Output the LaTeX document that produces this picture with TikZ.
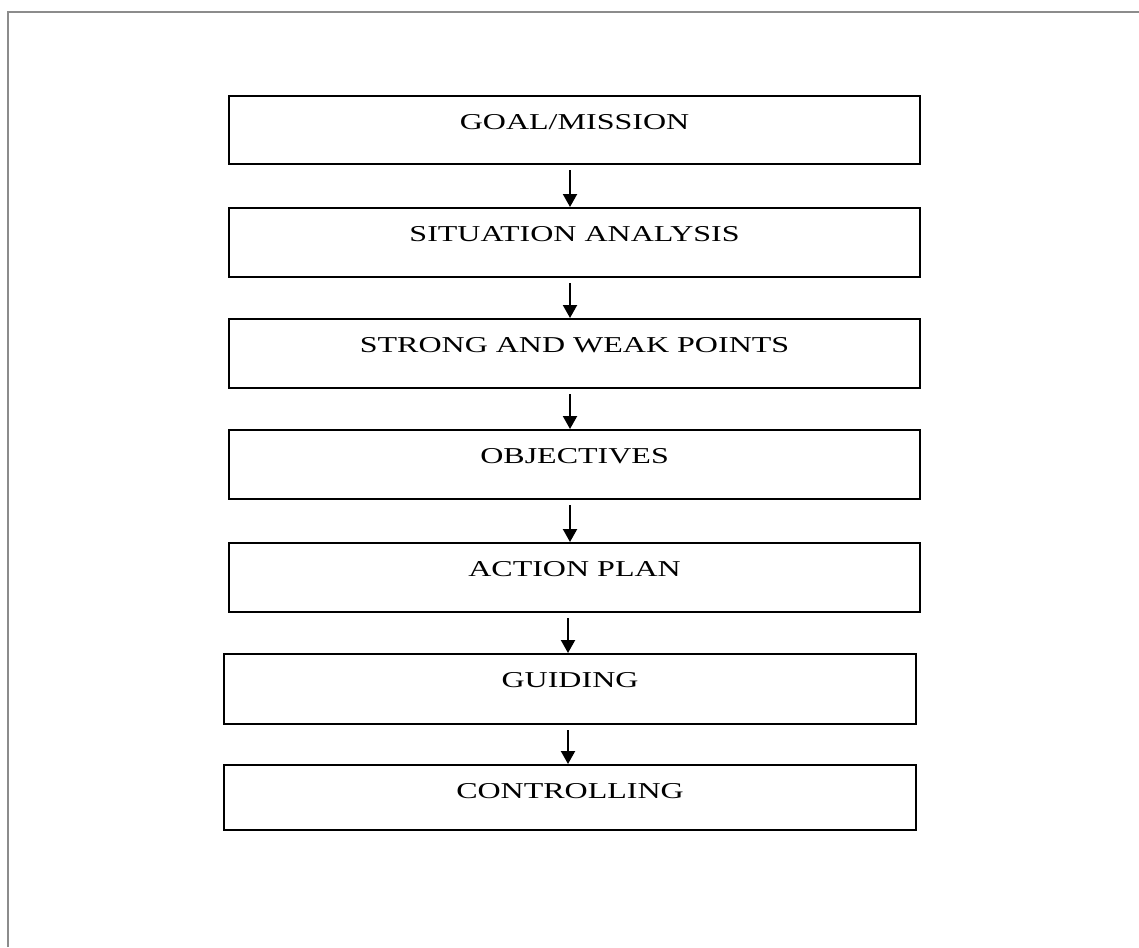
\documentclass[tikz,border=0pt]{standalone}
\usepackage{fontspec}
\usepackage{graphicx}
\setmainfont{Liberation Serif}
\usetikzlibrary{arrows.meta}
\begin{document}
\begin{tikzpicture}[x=1pt,y=-1pt,
  stepbox/.style={draw=black,line width=2.1pt,rectangle,anchor=north west,
    inner xsep=0pt,inner ysep=0pt,text height=33pt,
    font=\fontsize{22.7}{27}\selectfont},
  flow/.style={line width=2.1pt,-{Triangle[length=13pt,width=14pt]},shorten <=5pt}]
\useasboundingbox (0,0) rectangle (1139,947);
\fill[white] (0,0) rectangle (1139,947);
\draw[line width=1.5pt,color=gray!110!black] (8,947) -- (8,12) -- (1139,12);
\newcommand{\bx}[1]{\scalebox{1.41}[1]{#1}}
\node[stepbox,minimum width=691pt,text depth=35pt] (g1) at (228,95) {\bx{GOAL/MISSION}};
\node[stepbox,minimum width=691pt,text depth=36pt] (g2) at (228,207) {\bx{SITUATION ANALYSIS}};
\node[stepbox,minimum width=691pt,text depth=36pt] (g3) at (228,318) {\bx{STRONG AND WEAK POINTS}};
\node[stepbox,minimum width=691pt,text depth=36pt] (g4) at (228,429) {\bx{OBJECTIVES}};
\node[stepbox,minimum width=691pt,text depth=36pt] (g5) at (228,542) {\bx{ACTION PLAN}};
\node[stepbox,minimum width=692pt,text depth=37pt] (g6) at (223,653) {\bx{GUIDING}};
\node[stepbox,minimum width=692pt,text depth=32pt] (g7) at (223,764) {\bx{CONTROLLING}};
\coordinate (ax) at (570,0);
\coordinate (bx) at (568,0);
\draw[flow] (g1.south -| ax) -- (g2.north -| ax);
\draw[flow] (g2.south -| ax) -- (g3.north -| ax);
\draw[flow] (g3.south -| ax) -- (g4.north -| ax);
\draw[flow] (g4.south -| ax) -- (g5.north -| ax);
\draw[flow] (g5.south -| bx) -- (g6.north -| bx);
\draw[flow] (g6.south -| bx) -- (g7.north -| bx);
\end{tikzpicture}
\end{document}
